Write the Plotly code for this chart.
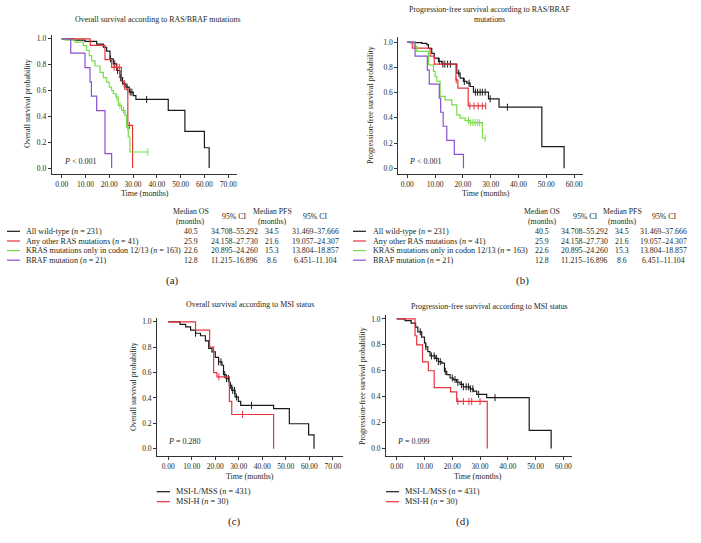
import plotly.graph_objects as go

W, H = 701, 543
FONT = "Liberation Serif, DejaVu Serif, serif"
TXT = "#231f20"
BLACK, RED, GREEN, PURPLE = "#1a1a1a", "#e8333a", "#78dc48", "#8a4fd0"

# ---------------- data ----------------
# (a) Overall survival by RAS/BRAF
os_wt_t = [0, 5, 9.8, 14.7, 17.5, 18.9, 20.3, 21.7, 23.1, 24.5, 25.6, 27.0, 28.4, 30.1, 31.2, 44.8, 51.8, 60.0, 62.0]
os_wt_s = [1.0, 0.99, 0.98, 0.96, 0.935, 0.905, 0.845, 0.807, 0.755, 0.70, 0.652, 0.626, 0.588, 0.56, 0.531, 0.446, 0.284, 0.157, 0.0]
os_wt_cens = [20.5, 22.3, 23.5, 24.8, 26.3, 27.5, 28.8, 29.5, 35.7]
os_ras_t = [0, 12.0, 18.2, 21.0, 25.1, 26.5, 27.8, 29.8]
os_ras_s = [1.0, 0.95, 0.84, 0.78, 0.67, 0.61, 0.33, 0.0]
os_ras_cens = [22.0, 23.2, 24.2, 28.5]
os_kras_t = [0, 1.5, 5.6, 9.1, 10.5, 11.6, 12.6, 14.0, 16.1, 17.5, 18.9, 20.0, 21.0, 21.7, 22.8, 23.8, 25.2, 26.6, 27.3, 28.0, 28.7, 36.2]
os_kras_s = [1.0, 0.99, 0.975, 0.948, 0.91, 0.87, 0.83, 0.79, 0.74, 0.70, 0.665, 0.626, 0.60, 0.575, 0.549, 0.485, 0.446, 0.407, 0.317, 0.24, 0.124, 0.124]
os_kras_cens = [23.2, 24.5, 26.0, 27.8, 36.2]
os_braf_t = [0, 3.8, 9.8, 11.9, 12.5, 14.7, 18.2, 21.0]
os_braf_s = [1.0, 0.889, 0.778, 0.667, 0.556, 0.444, 0.111, 0.0]
os_braf_cens = []

# (b) Progression-free survival by RAS/BRAF
pfs_wt_t = [0, 1.0, 5.2, 7.0, 7.6, 8.8, 9.7, 11.2, 12.4, 17.8, 19.0, 20.2, 21.4, 22.6, 23.8, 29.2, 33.0, 48.4, 56.4]
pfs_wt_s = [1.0, 0.995, 0.99, 0.98, 0.95, 0.91, 0.873, 0.847, 0.825, 0.754, 0.714, 0.688, 0.675, 0.648, 0.603, 0.55, 0.484, 0.172, 0.0]
pfs_wt_cens = [11.5, 12.8, 13.5, 14.5, 15.5, 18.5, 20.5, 22.2, 24.5, 25.3, 26.2, 27.0, 28.0, 29.8, 36.0]
pfs_ras_t = [0, 1.8, 8.2, 9.7, 17.5, 18.2, 21.9, 28.2]
pfs_ras_s = [1.0, 0.952, 0.889, 0.825, 0.70, 0.635, 0.494, 0.494]
pfs_ras_cens = [17.6, 22.5, 24.0, 25.5, 27.0, 28.2]
pfs_kras_t = [0, 2.5, 3.4, 7.6, 9.4, 10.0, 10.6, 11.8, 13.6, 16.0, 17.8, 19.0, 20.8, 22.6, 27.0, 28.0]
pfs_kras_s = [1.0, 0.966, 0.926, 0.82, 0.767, 0.727, 0.688, 0.569, 0.542, 0.503, 0.423, 0.397, 0.378, 0.362, 0.238, 0.238]
pfs_kras_cens = [22.0, 22.8, 23.6, 24.4, 25.2, 26.0, 28.0]
pfs_braf_t = [0, 2.8, 7.2, 7.9, 11.5, 12.0, 12.9, 14.2, 16.9, 20.2]
pfs_braf_s = [1.0, 0.889, 0.778, 0.667, 0.556, 0.444, 0.333, 0.222, 0.111, 0.0]
pfs_braf_cens = []

# (c) Overall survival by MSI status
os_mss_t = [0, 5.0, 7.4, 9.5, 11.6, 13.7, 15.8, 17.2, 18.6, 20.0, 21.4, 22.8, 23.5, 24.6, 26.0, 27.0, 28.4, 29.8, 30.8, 44.8, 51.5, 59.7, 62.0]
os_mss_s = [1.0, 0.98, 0.96, 0.935, 0.91, 0.89, 0.85, 0.79, 0.763, 0.72, 0.684, 0.658, 0.584, 0.553, 0.50, 0.46, 0.408, 0.374, 0.342, 0.316, 0.197, 0.11, 0.0]
os_mss_cens = [11.6, 21.4, 22.4, 24.0, 24.8, 25.6, 26.5, 27.4, 28.2, 29.0, 35.4]
os_msih_t = [0, 11.6, 17.6, 19.3, 20.7, 26.0, 27.0, 44.8]
os_msih_s = [1.0, 0.934, 0.80, 0.60, 0.566, 0.374, 0.27, 0.0]
os_msih_cens = [21.5, 31.6]

# (d) Progression-free survival by MSI status
pfs_mss_t = [0, 3.0, 5.2, 6.8, 7.6, 9.0, 10.0, 10.4, 11.2, 12.0, 13.8, 15.0, 16.2, 17.2, 18.0, 19.2, 20.4, 21.6, 22.8, 24.0, 26.4, 27.6, 28.8, 32.4, 47.7, 55.6]
pfs_mss_s = [1.0, 0.987, 0.967, 0.937, 0.90, 0.86, 0.815, 0.785, 0.747, 0.714, 0.696, 0.67, 0.658, 0.595, 0.57, 0.544, 0.532, 0.511, 0.494, 0.476, 0.46, 0.443, 0.418, 0.392, 0.139, 0.0]
pfs_mss_cens = [8.5, 10.5, 12.5, 13.5, 14.3, 15.0, 15.7, 17.5, 20.0, 21.0, 22.0, 23.3, 24.0, 25.0, 25.8, 26.6, 27.4, 29.5, 35.4]
pfs_msih_t = [0, 6.6, 7.2, 9.3, 11.4, 13.5, 19.4, 21.6, 32.6]
pfs_msih_s = [1.0, 0.87, 0.80, 0.668, 0.60, 0.47, 0.437, 0.363, 0.0]
pfs_msih_cens = [22.0, 24.0, 26.0, 27.0, 30.0]

# table / legend text
ras_labels = ["All wild-type (<i>n</i> = 231)", "Any other RAS mutations (<i>n</i> = 41)",
              "KRAS mutations only in codon 12/13 (<i>n</i> = 163)", "BRAF mutation (<i>n</i> = 21)"]
median_os = ["40.5", "25.9", "22.6", "12.8"]
ci_os = ["34.708–55.292", "24.158–27.730", "20.895–24.260", "11.215–16.896"]
median_pfs = ["34.5", "21.6", "15.3", "8.6"]
ci_pfs = ["31.469–37.666", "19.057–24.307", "13.804–18.857", "6.451–11.104"]
msi_labels = ["MSI-L/MSS (<i>n</i> = 431)", "MSI-H (<i>n</i> = 30)"]
p_values = ["<i>P</i> < 0.001", "<i>P</i> < 0.001", "<i>P</i> = 0.280", "<i>P</i> = 0.099"]
titles = ["Overall survival according to RAS/BRAF mutations",
          "Progression-free survival according to RAS/BRAF",
          "mutations",
          "Overall survival according to MSI status",
          "Progression-free survival according to MSI status"]
x_ticks_os = [0, 10, 20, 30, 40, 50, 60, 70]
x_ticks_pfs = [0, 10, 20, 30, 40, 50, 60]
y_ticks = [0.0, 0.2, 0.4, 0.6, 0.8, 1.0]

# ---------------- figure ----------------
fig = go.Figure()

def px(x):
    return x / W

def py(y):
    return 1 - y / H

def step_val(ts, ss, t):
    v = ss[0]
    for a, b in zip(ts, ss):
        if a <= t:
            v = b
    return v

def add_curve(ax, ts, ss, cens, color):
    xa = "x" if ax == 1 else f"x{ax}"
    ya = "y" if ax == 1 else f"y{ax}"
    fig.add_trace(go.Scatter(x=ts, y=ss, mode="lines", line=dict(color=color, width=1.2, shape="hv"),
                             xaxis=xa, yaxis=ya, showlegend=False, hoverinfo="skip"))
    if cens:
        fig.add_trace(go.Scatter(x=cens, y=[step_val(ts, ss, c) for c in cens], mode="markers",
                                 marker=dict(symbol="line-ns", size=5, line=dict(color=color, width=1)),
                                 xaxis=xa, yaxis=ya, showlegend=False, hoverinfo="skip"))

panels = [
    dict(ax=1, curves=[(os_wt_t, os_wt_s, os_wt_cens, BLACK), (os_ras_t, os_ras_s, os_ras_cens, RED),
                       (os_kras_t, os_kras_s, os_kras_cens, GREEN), (os_braf_t, os_braf_s, os_braf_cens, PURPLE)],
         xdom=(51.7, 237), ydom=(35, 173.7), xr=(-4.2, 73.7), yr=(-0.044, 1.03), xt=x_ticks_os),
    dict(ax=2, curves=[(pfs_wt_t, pfs_wt_s, pfs_wt_cens, BLACK), (pfs_ras_t, pfs_ras_s, pfs_ras_cens, RED),
                       (pfs_kras_t, pfs_kras_s, pfs_kras_cens, GREEN), (pfs_braf_t, pfs_braf_s, pfs_braf_cens, PURPLE)],
         xdom=(398.3, 583), ydom=(37, 174), xr=(-3.24, 63.2), yr=(-0.045, 1.04), xt=x_ticks_pfs),
    dict(ax=3, curves=[(os_mss_t, os_mss_s, os_mss_cens, BLACK), (os_msih_t, os_msih_s, os_msih_cens, RED)],
         xdom=(157, 342.7), ydom=(318, 456), xr=(-4.8, 74.2), yr=(-0.057, 1.03), xt=x_ticks_os),
    dict(ax=4, curves=[(pfs_mss_t, pfs_mss_s, pfs_mss_cens, BLACK), (pfs_msih_t, pfs_msih_s, pfs_msih_cens, RED)],
         xdom=(386, 571.7), ydom=(315, 456), xr=(-3.85, 63.0), yr=(-0.058, 1.03), xt=x_ticks_pfs),
]

layout = dict(width=W, height=H, margin=dict(l=0, r=0, t=0, b=0), paper_bgcolor="white",
              plot_bgcolor="white", showlegend=False, font=dict(family=FONT, color=TXT, size=8))
for p in panels:
    for ts, ss, cens, col in p["curves"]:
        add_curve(p["ax"], ts, ss, cens, col)
    k = "" if p["ax"] == 1 else str(p["ax"])
    common = dict(showline=True, linecolor="#333", linewidth=1, ticks="outside", ticklen=3,
                  tickcolor="#333", tickwidth=1, showgrid=False, zeroline=False,
                  tickfont=dict(family=FONT, size=7.5, color=TXT))
    layout["xaxis" + k] = dict(domain=[px(p["xdom"][0]), px(p["xdom"][1])], range=list(p["xr"]),
                               anchor="y" + k, tickvals=p["xt"], ticktext=[f"{v:.2f}" for v in p["xt"]],
                               **common)
    layout["yaxis" + k] = dict(domain=[py(p["ydom"][1]), py(p["ydom"][0])], range=list(p["yr"]),
                               anchor="x" + k, tickvals=y_ticks, ticktext=[f"{v:.1f}" for v in y_ticks],
                               **common)
fig.update_layout(**layout)

def ann(text, x, y, size=8, xanchor="center", yanchor="middle", angle=0):
    fig.add_annotation(text=text, x=px(x), y=py(y), xref="paper", yref="paper", showarrow=False,
                       xanchor=xanchor, yanchor=yanchor, textangle=angle,
                       font=dict(family=FONT, size=size, color=TXT))

# titles
ann(titles[0], 157, 19, size=7.9)
ann(titles[1], 490, 10, size=7.9)
ann(titles[2], 490, 19, size=7.9)
ann(titles[3], 250, 304, size=7.9)
ann(titles[4], 489, 306, size=7.9)

# axis titles
ann("Overall survival probability", 28, 104, angle=-90)
ann("Progression-free survival probability", 370, 105, angle=-90)
ann("Overall survival probability", 133, 387, angle=-90)
ann("Progression-free survival probability", 362, 386, angle=-90)
for xx, yy in [(145, 193), (486, 193), (250, 476), (478, 476)]:
    ann("Time (months)", xx, yy)

# p values
ann(p_values[0], 62, 161.7, xanchor="left")
ann(p_values[1], 407, 161.7, xanchor="left")
ann(p_values[2], 166, 441.7, xanchor="left")
ann(p_values[3], 395, 441.7, xanchor="left")

# RAS/BRAF legend tables
row_y = [231.3, 241.0, 250.6, 260.2]
ras_colors = [BLACK, RED, GREEN, PURPLE]
for (lx0, lx1, tx, cols) in [(7, 20, 24, (191, 234, 272, 315)), (353, 366, 371, (542, 584.5, 622, 663.5))]:
    ann("Median OS", cols[0], 211.5, size=7.8)
    ann("(months)", cols[0], 221.5, size=7.8)
    ann("95% CI", cols[1], 216.7, size=7.8)
    ann("Median PFS", cols[2], 211.5, size=7.8)
    ann("(months)", cols[2], 221.5, size=7.8)
    ann("95% CI", cols[3], 216.7, size=7.8)
    for i, yy in enumerate(row_y):
        fig.add_shape(type="line", xref="paper", yref="paper", x0=px(lx0), x1=px(lx1), y0=py(yy), y1=py(yy),
                      line=dict(color=ras_colors[i], width=1.2))
        ann(ras_labels[i], tx, yy, size=8.1, xanchor="left")
        ann(median_os[i], cols[0], yy, size=7.8)
        ann(ci_os[i], cols[1], yy, size=7.8)
        ann(median_pfs[i], cols[2], yy, size=7.8)
        ann(ci_pfs[i], cols[3], yy, size=7.8)

# MSI legends
msi_y = [491.7, 501.7]
msi_colors = [BLACK, RED]
for (lx0, lx1, tx) in [(156.7, 170, 174), (386, 399, 403)]:
    for i, yy in enumerate(msi_y):
        fig.add_shape(type="line", xref="paper", yref="paper", x0=px(lx0), x1=px(lx1), y0=py(yy), y1=py(yy),
                      line=dict(color=msi_colors[i], width=1.2))
        ann(msi_labels[i], tx, yy, size=8.3, xanchor="left")

# panel letters
ann("(a)", 172, 280, size=11)
ann("(b)", 522, 280, size=11)
ann("(c)", 234, 521.7, size=11)
ann("(d)", 463, 521.7, size=11)

fig.write_html("out.html", config={"displayModeBar": False},
               post_script="document.body.style.margin='0';document.body.style.overflow='hidden';")
